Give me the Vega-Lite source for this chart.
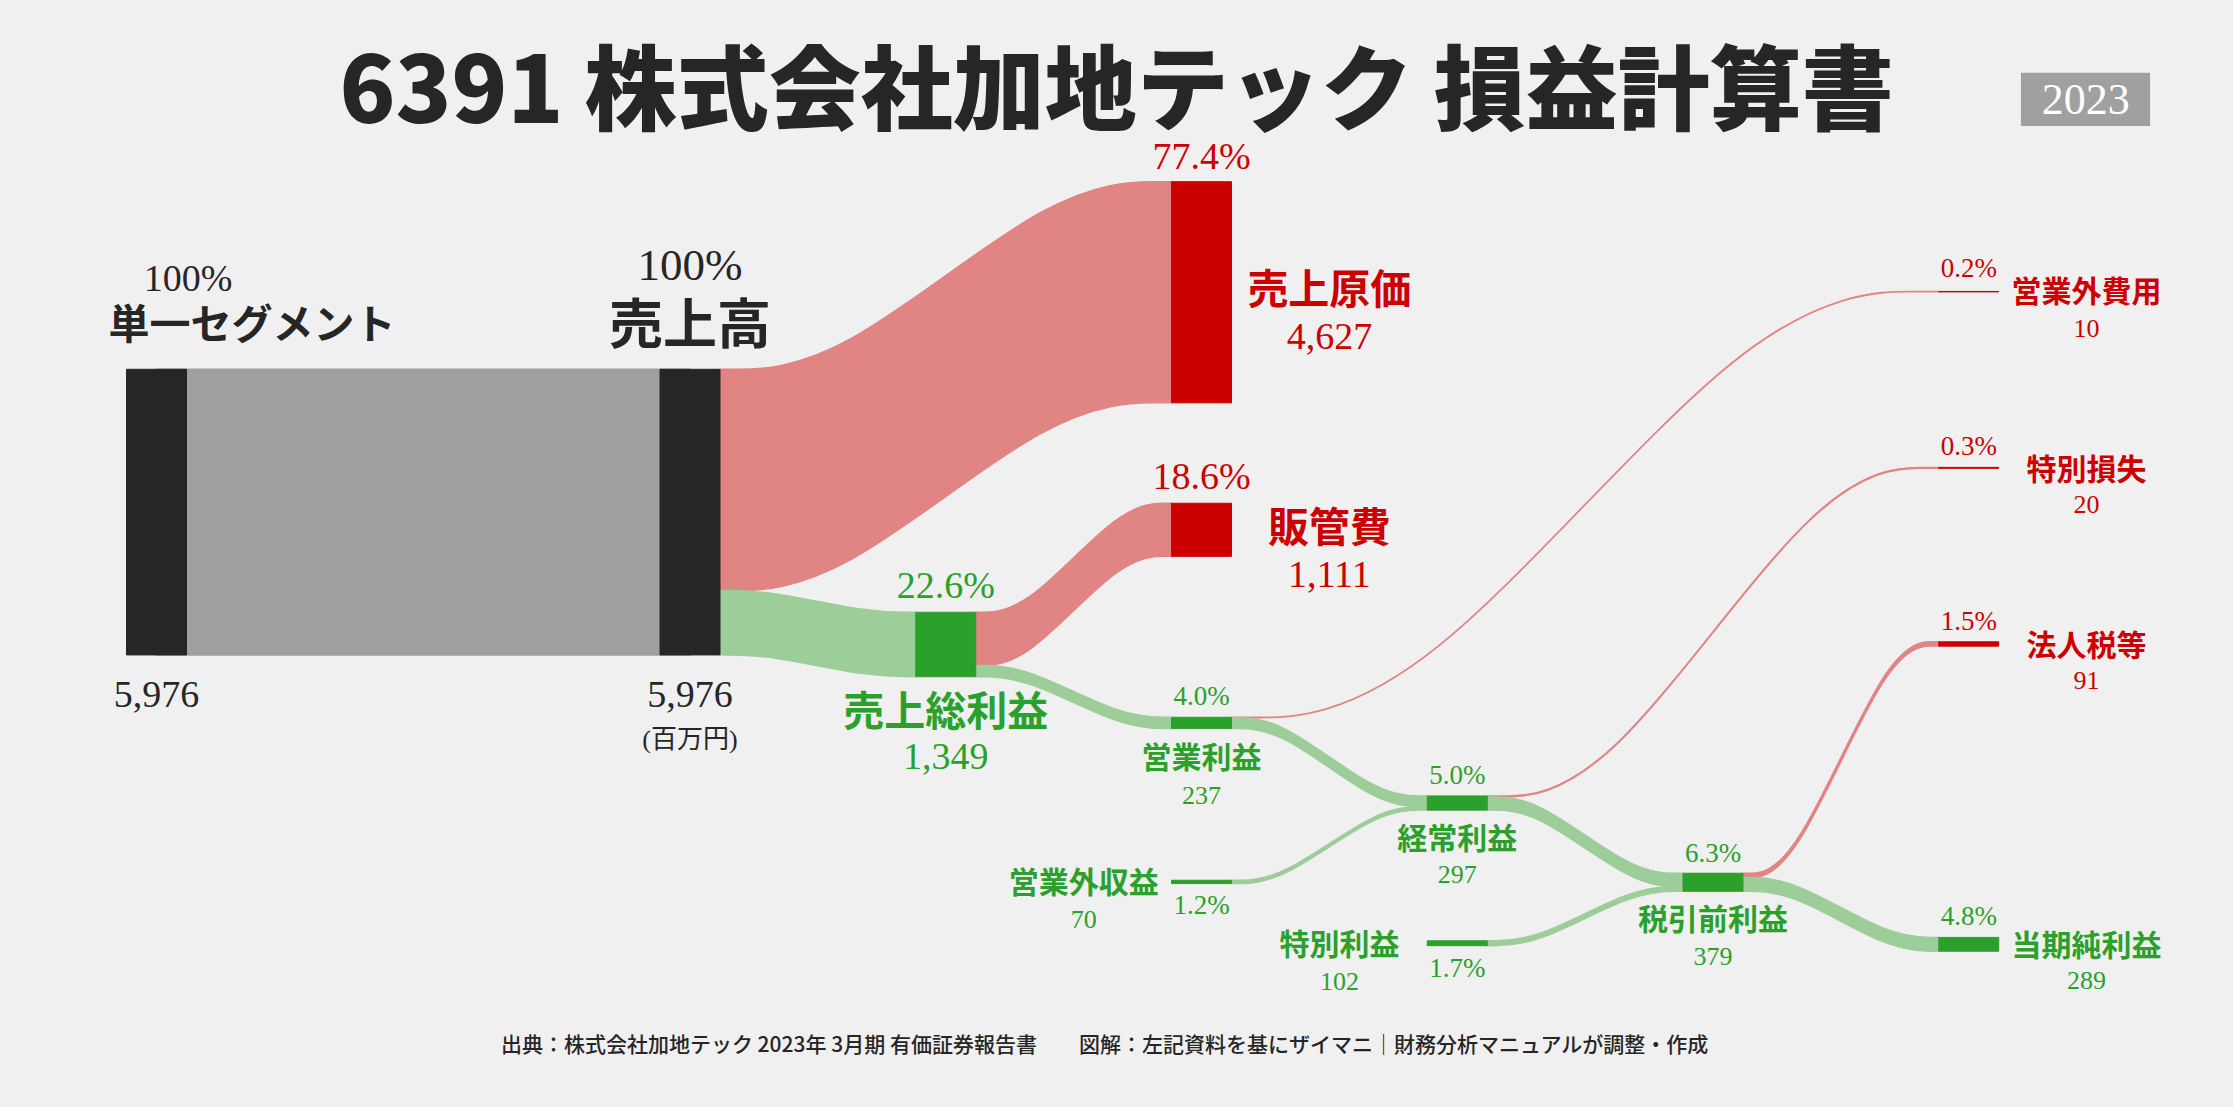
{
  "$schema": "https://vega.github.io/schema/vega-lite/v6.json",
  "width": 2233,
  "height": 1107,
  "autosize": {"type": "none"},
  "padding": 0,
  "background": "#f0f0f0",
  "config": {"view": {"stroke": null}},
  "datasets": {
    "nodes": [
      {"node": "単一セグメント", "kind": "base", "x": 0, "y": 7726, "y2": 13702},
      {"node": "売上高", "kind": "base", "x": 1, "y": 7726, "y2": 13702},
      {"node": "売上総利益", "kind": "profit", "x": 2, "y": 12809, "y2": 14158},
      {"node": "売上原価", "kind": "cost", "x": 3, "y": 3801, "y2": 8428},
      {"node": "販管費", "kind": "cost", "x": 3, "y": 10529, "y2": 11640},
      {"node": "営業利益", "kind": "profit", "x": 3, "y": 15006, "y2": 15243},
      {"node": "営業外収益", "kind": "profit", "x": 3, "y": 18416, "y2": 18486},
      {"node": "経常利益", "kind": "profit", "x": 4, "y": 16652, "y2": 16949},
      {"node": "特別利益", "kind": "profit", "x": 4, "y": 19683, "y2": 19785},
      {"node": "税引前利益", "kind": "profit", "x": 5, "y": 18269, "y2": 18648},
      {"node": "営業外費用", "kind": "cost", "x": 6, "y": 6097, "y2": 6107},
      {"node": "特別損失", "kind": "cost", "x": 6, "y": 9778, "y2": 9798},
      {"node": "法人税等", "kind": "cost", "x": 6, "y": 13427, "y2": 13518},
      {"node": "当期純利益", "kind": "profit", "x": 6, "y": 19612, "y2": 19901}
    ],
    "links": [
      {"link": "L1", "kind": "base-link", "x": 0, "y": 7726, "y2": 13702},
      {"link": "L1", "kind": "base-link", "x": 1, "y": 7726, "y2": 13702},
      {"link": "L2", "kind": "cost-link", "x": 1.117, "y": 7726, "y2": 12353},
      {"link": "L2", "kind": "cost-link", "x": 1.559, "y": 7726, "y2": 12353},
      {"link": "L2", "kind": "cost-link", "x": 2.441, "y": 3801, "y2": 8428},
      {"link": "L2", "kind": "cost-link", "x": 2.883, "y": 3801, "y2": 8428},
      {"link": "L3", "kind": "profit-link", "x": 1.117, "y": 12353, "y2": 13702},
      {"link": "L3", "kind": "profit-link", "x": 1.309, "y": 12353, "y2": 13702},
      {"link": "L3", "kind": "profit-link", "x": 1.691, "y": 12809, "y2": 14158},
      {"link": "L3", "kind": "profit-link", "x": 1.883, "y": 12809, "y2": 14158},
      {"link": "L4", "kind": "cost-link", "x": 2.117, "y": 12809, "y2": 13920},
      {"link": "L4", "kind": "cost-link", "x": 2.309, "y": 12809, "y2": 13920},
      {"link": "L4", "kind": "cost-link", "x": 2.691, "y": 10529, "y2": 11640},
      {"link": "L4", "kind": "cost-link", "x": 2.883, "y": 10529, "y2": 11640},
      {"link": "L5", "kind": "profit-link", "x": 2.117, "y": 13921, "y2": 14158},
      {"link": "L5", "kind": "profit-link", "x": 2.309, "y": 13921, "y2": 14158},
      {"link": "L5", "kind": "profit-link", "x": 2.691, "y": 15006, "y2": 15243},
      {"link": "L5", "kind": "profit-link", "x": 2.883, "y": 15006, "y2": 15243},
      {"link": "L6", "kind": "cost-link", "x": 3.117, "y": 15006, "y2": 15016},
      {"link": "L6", "kind": "cost-link", "x": 3.809, "y": 15006, "y2": 15016},
      {"link": "L6", "kind": "cost-link", "x": 5.191, "y": 6097, "y2": 6107},
      {"link": "L6", "kind": "cost-link", "x": 5.883, "y": 6097, "y2": 6107},
      {"link": "L7", "kind": "profit-link", "x": 3.117, "y": 15016, "y2": 15243},
      {"link": "L7", "kind": "profit-link", "x": 3.309, "y": 15016, "y2": 15243},
      {"link": "L7", "kind": "profit-link", "x": 3.691, "y": 16652, "y2": 16879},
      {"link": "L7", "kind": "profit-link", "x": 3.883, "y": 16652, "y2": 16879},
      {"link": "L8", "kind": "profit-link", "x": 3.117, "y": 18416, "y2": 18486},
      {"link": "L8", "kind": "profit-link", "x": 3.309, "y": 18416, "y2": 18486},
      {"link": "L8", "kind": "profit-link", "x": 3.691, "y": 16879, "y2": 16949},
      {"link": "L8", "kind": "profit-link", "x": 3.883, "y": 16879, "y2": 16949},
      {"link": "L9", "kind": "cost-link", "x": 4.117, "y": 16652, "y2": 16672},
      {"link": "L9", "kind": "cost-link", "x": 4.559, "y": 16652, "y2": 16672},
      {"link": "L9", "kind": "cost-link", "x": 5.441, "y": 9778, "y2": 9798},
      {"link": "L9", "kind": "cost-link", "x": 5.883, "y": 9778, "y2": 9798},
      {"link": "L10", "kind": "profit-link", "x": 4.117, "y": 16672, "y2": 16949},
      {"link": "L10", "kind": "profit-link", "x": 4.309, "y": 16672, "y2": 16949},
      {"link": "L10", "kind": "profit-link", "x": 4.691, "y": 18269, "y2": 18546},
      {"link": "L10", "kind": "profit-link", "x": 4.883, "y": 18269, "y2": 18546},
      {"link": "L11", "kind": "profit-link", "x": 4.117, "y": 19683, "y2": 19785},
      {"link": "L11", "kind": "profit-link", "x": 4.309, "y": 19683, "y2": 19785},
      {"link": "L11", "kind": "profit-link", "x": 4.691, "y": 18546, "y2": 18648},
      {"link": "L11", "kind": "profit-link", "x": 4.883, "y": 18546, "y2": 18648},
      {"link": "L12", "kind": "cost-link", "x": 5.117, "y": 18269, "y2": 18360},
      {"link": "L12", "kind": "cost-link", "x": 5.309, "y": 18269, "y2": 18360},
      {"link": "L12", "kind": "cost-link", "x": 5.691, "y": 13427, "y2": 13518},
      {"link": "L12", "kind": "cost-link", "x": 5.883, "y": 13427, "y2": 13518},
      {"link": "L13", "kind": "profit-link", "x": 5.117, "y": 18360, "y2": 18648},
      {"link": "L13", "kind": "profit-link", "x": 5.309, "y": 18360, "y2": 18648},
      {"link": "L13", "kind": "profit-link", "x": 5.691, "y": 19612, "y2": 19900},
      {"link": "L13", "kind": "profit-link", "x": 5.883, "y": 19612, "y2": 19900}
    ],
    "box": [
      {"x": 6.204, "x2": 6.709, "y": 1521, "y2": 2636}
    ],
    "labels": [
      {"text": "6391 株式会社加地テック 損益計算書", "role": "title", "kind": "base", "x": 2.668, "y": 1983},
      {"text": "2023", "role": "year", "kind": "base", "x": 6.457, "y": 2113},
      {"text": "出典：株式会社加地テック 2023年 3月期 有価証券報告書　　図解：左記資料を基にザイマニ｜財務分析マニュアルが調整・作成", "role": "note", "kind": "base", "x": 2.621, "y": 21893},
      {"text": "単一セグメント", "role": "name-l", "kind": "base", "x": 0.179, "y": 6834},
      {"text": "売上高", "role": "name-xl", "kind": "base", "x": 1, "y": 6857},
      {"text": "売上原価", "role": "name-l", "kind": "cost", "x": 3.5, "y": 6115},
      {"text": "販管費", "role": "name-l", "kind": "cost", "x": 3.5, "y": 11094},
      {"text": "売上総利益", "role": "name-l", "kind": "profit", "x": 2, "y": 14943},
      {"text": "営業利益", "role": "name-s", "kind": "profit", "x": 3, "y": 15887},
      {"text": "経常利益", "role": "name-s", "kind": "profit", "x": 4, "y": 17581},
      {"text": "税引前利益", "role": "name-s", "kind": "profit", "x": 5, "y": 19276},
      {"text": "営業外収益", "role": "name-s", "kind": "profit", "x": 2.54, "y": 18502},
      {"text": "特別利益", "role": "name-s", "kind": "profit", "x": 3.54, "y": 19799},
      {"text": "営業外費用", "role": "name-s", "kind": "cost", "x": 6.46, "y": 6132},
      {"text": "特別損失", "role": "name-s", "kind": "cost", "x": 6.46, "y": 9851},
      {"text": "法人税等", "role": "name-s", "kind": "cost", "x": 6.46, "y": 13544},
      {"text": "当期純利益", "role": "name-s", "kind": "profit", "x": 6.46, "y": 19820},
      {"text": "100%", "role": "pct-l", "kind": "base", "x": 0.059, "y": 5859},
      {"text": "100%", "role": "pct-xl", "kind": "base", "x": 1, "y": 5566},
      {"text": "77.4%", "role": "pct-l", "kind": "cost", "x": 3, "y": 3305},
      {"text": "18.6%", "role": "pct-l", "kind": "cost", "x": 3, "y": 10000},
      {"text": "22.6%", "role": "pct-l", "kind": "profit", "x": 2, "y": 12280},
      {"text": "4.0%", "role": "pct-s", "kind": "profit", "x": 3, "y": 14581},
      {"text": "5.0%", "role": "pct-s", "kind": "profit", "x": 4, "y": 16234},
      {"text": "6.3%", "role": "pct-s", "kind": "profit", "x": 5, "y": 17866},
      {"text": "1.2%", "role": "pct-s", "kind": "profit", "x": 3, "y": 18954},
      {"text": "1.7%", "role": "pct-s", "kind": "profit", "x": 4, "y": 20272},
      {"text": "0.2%", "role": "pct-s", "kind": "cost", "x": 6, "y": 5628},
      {"text": "0.3%", "role": "pct-s", "kind": "cost", "x": 6, "y": 9345},
      {"text": "1.5%", "role": "pct-s", "kind": "cost", "x": 6, "y": 13012},
      {"text": "4.8%", "role": "pct-s", "kind": "profit", "x": 6, "y": 19184},
      {"text": "5,976", "role": "val-l", "kind": "base", "x": 0, "y": 14560},
      {"text": "5,976", "role": "val-l", "kind": "base", "x": 1, "y": 14560},
      {"text": "4,627", "role": "val-l", "kind": "cost", "x": 3.5, "y": 7061},
      {"text": "1,111", "role": "val-l", "kind": "cost", "x": 3.5, "y": 12050},
      {"text": "1,349", "role": "val-l", "kind": "profit", "x": 2, "y": 15857},
      {"text": "237", "role": "val-s", "kind": "profit", "x": 3, "y": 16652},
      {"text": "297", "role": "val-s", "kind": "profit", "x": 4, "y": 18305},
      {"text": "379", "role": "val-s", "kind": "profit", "x": 5, "y": 20020},
      {"text": "70", "role": "val-s", "kind": "profit", "x": 2.54, "y": 19246},
      {"text": "102", "role": "val-s", "kind": "profit", "x": 3.54, "y": 20544},
      {"text": "10", "role": "val-s", "kind": "cost", "x": 6.46, "y": 6879},
      {"text": "20", "role": "val-s", "kind": "cost", "x": 6.46, "y": 10565},
      {"text": "91", "role": "val-s", "kind": "cost", "x": 6.46, "y": 14247},
      {"text": "289", "role": "val-s", "kind": "profit", "x": 6.46, "y": 20523},
      {"text": "(百万円)", "role": "unit", "kind": "base", "x": 1, "y": 15481}
    ]
  },
  "encoding": {
    "x": {"field": "x", "type": "quantitative", "axis": null, "scale": {"type": "linear", "domain": [0, 1, 7], "range": [156.5, 690, 2224.5], "padding": 0, "zero": false, "nice": false}},
    "y": {"field": "y", "type": "quantitative", "axis": null, "stack": null, "scale": {"domain": [0, 23160], "reverse": true, "padding": 0, "zero": false, "nice": false}}
  },
  "layer": [
    {
      "data": {"name": "links"},
      "mark": {"type": "area", "interpolate": "basis", "strokeWidth": 1.4},
      "encoding": {
        "y2": {"field": "y2"},
        "detail": {"field": "link"},
        "color": {"field": "kind", "type": "nominal", "legend": null, "scale": {"domain": ["base", "cost", "profit", "base-link", "cost-link", "profit-link"], "range": ["#262626", "#cc0000", "#2ca02c", "#a0a0a0", "#e08484", "#9dcd99"]}},
        "stroke": {"field": "kind", "type": "nominal", "legend": null, "scale": {"domain": ["base", "cost", "profit", "base-link", "cost-link", "profit-link"], "range": ["#262626", "#cc0000", "#2ca02c", "#a0a0a0", "#e08484", "#9dcd99"]}}
      }
    },
    {
      "data": {"name": "nodes"},
      "mark": {"type": "bar", "width": 60, "strokeWidth": 1},
      "encoding": {
        "y2": {"field": "y2"},
        "color": {"field": "kind", "type": "nominal", "legend": null, "scale": {"domain": ["base", "cost", "profit", "base-link", "cost-link", "profit-link"], "range": ["#262626", "#cc0000", "#2ca02c", "#a0a0a0", "#e08484", "#9dcd99"]}},
        "stroke": {"field": "kind", "type": "nominal", "legend": null, "scale": {"domain": ["base", "cost", "profit", "base-link", "cost-link", "profit-link"], "range": ["#262626", "#cc0000", "#2ca02c", "#a0a0a0", "#e08484", "#9dcd99"]}}
      }
    },
    {
      "data": {"name": "box"},
      "mark": {"type": "rect", "fill": "#a0a0a0"},
      "encoding": {"x2": {"field": "x2"}, "y2": {"field": "y2"}}
    },
    {
      "data": {"name": "labels"},
      "transform": [{"filter": "datum.role == 'title'"}],
      "mark": {"type": "text", "font": "Noto Sans CJK JP", "fontSize": 92, "fontWeight": 900, "fill": "#262626", "align": "center", "baseline": "middle"},
      "encoding": {"text": {"field": "text"}}
    },
    {
      "data": {"name": "labels"},
      "transform": [{"filter": "datum.role == 'year'"}],
      "mark": {"type": "text", "font": "Liberation Serif", "fontSize": 44, "fill": "#ffffff", "align": "center", "baseline": "middle"},
      "encoding": {"text": {"field": "text"}}
    },
    {
      "data": {"name": "labels"},
      "transform": [{"filter": "datum.role == 'note'"}],
      "mark": {"type": "text", "font": "Noto Sans CJK JP", "fontSize": 21, "fontWeight": 500, "fill": "#262626", "align": "center", "baseline": "middle"},
      "encoding": {"text": {"field": "text"}}
    },
    {
      "data": {"name": "labels"},
      "transform": [{"filter": "datum.role == 'name-xl'"}],
      "mark": {"type": "text", "font": "Noto Sans CJK JP", "fontSize": 54, "fontWeight": "bold", "align": "center", "baseline": "middle"},
      "encoding": {"text": {"field": "text"}, "color": {"field": "kind", "type": "nominal", "legend": null, "scale": {"domain": ["base", "cost", "profit", "base-link", "cost-link", "profit-link"], "range": ["#262626", "#cc0000", "#2ca02c", "#a0a0a0", "#e08484", "#9dcd99"]}}}
    },
    {
      "data": {"name": "labels"},
      "transform": [{"filter": "datum.role == 'name-l'"}],
      "mark": {"type": "text", "font": "Noto Sans CJK JP", "fontSize": 41, "fontWeight": "bold", "align": "center", "baseline": "middle"},
      "encoding": {"text": {"field": "text"}, "color": {"field": "kind", "type": "nominal", "legend": null, "scale": {"domain": ["base", "cost", "profit", "base-link", "cost-link", "profit-link"], "range": ["#262626", "#cc0000", "#2ca02c", "#a0a0a0", "#e08484", "#9dcd99"]}}}
    },
    {
      "data": {"name": "labels"},
      "transform": [{"filter": "datum.role == 'name-s'"}],
      "mark": {"type": "text", "font": "Noto Sans CJK JP", "fontSize": 30, "fontWeight": "bold", "align": "center", "baseline": "middle"},
      "encoding": {"text": {"field": "text"}, "color": {"field": "kind", "type": "nominal", "legend": null, "scale": {"domain": ["base", "cost", "profit", "base-link", "cost-link", "profit-link"], "range": ["#262626", "#cc0000", "#2ca02c", "#a0a0a0", "#e08484", "#9dcd99"]}}}
    },
    {
      "data": {"name": "labels"},
      "transform": [{"filter": "datum.role == 'pct-xl'"}],
      "mark": {"type": "text", "font": "Liberation Serif", "fontSize": 45, "align": "center", "baseline": "middle"},
      "encoding": {"text": {"field": "text"}, "color": {"field": "kind", "type": "nominal", "legend": null, "scale": {"domain": ["base", "cost", "profit", "base-link", "cost-link", "profit-link"], "range": ["#262626", "#cc0000", "#2ca02c", "#a0a0a0", "#e08484", "#9dcd99"]}}}
    },
    {
      "data": {"name": "labels"},
      "transform": [{"filter": "datum.role == 'pct-l'"}],
      "mark": {"type": "text", "font": "Liberation Serif", "fontSize": 38, "align": "center", "baseline": "middle"},
      "encoding": {"text": {"field": "text"}, "color": {"field": "kind", "type": "nominal", "legend": null, "scale": {"domain": ["base", "cost", "profit", "base-link", "cost-link", "profit-link"], "range": ["#262626", "#cc0000", "#2ca02c", "#a0a0a0", "#e08484", "#9dcd99"]}}}
    },
    {
      "data": {"name": "labels"},
      "transform": [{"filter": "datum.role == 'pct-s'"}],
      "mark": {"type": "text", "font": "Liberation Serif", "fontSize": 27, "align": "center", "baseline": "middle"},
      "encoding": {"text": {"field": "text"}, "color": {"field": "kind", "type": "nominal", "legend": null, "scale": {"domain": ["base", "cost", "profit", "base-link", "cost-link", "profit-link"], "range": ["#262626", "#cc0000", "#2ca02c", "#a0a0a0", "#e08484", "#9dcd99"]}}}
    },
    {
      "data": {"name": "labels"},
      "transform": [{"filter": "datum.role == 'val-l'"}],
      "mark": {"type": "text", "font": "Liberation Serif", "fontSize": 38, "align": "center", "baseline": "middle"},
      "encoding": {"text": {"field": "text"}, "color": {"field": "kind", "type": "nominal", "legend": null, "scale": {"domain": ["base", "cost", "profit", "base-link", "cost-link", "profit-link"], "range": ["#262626", "#cc0000", "#2ca02c", "#a0a0a0", "#e08484", "#9dcd99"]}}}
    },
    {
      "data": {"name": "labels"},
      "transform": [{"filter": "datum.role == 'val-s'"}],
      "mark": {"type": "text", "font": "Liberation Serif", "fontSize": 26, "align": "center", "baseline": "middle"},
      "encoding": {"text": {"field": "text"}, "color": {"field": "kind", "type": "nominal", "legend": null, "scale": {"domain": ["base", "cost", "profit", "base-link", "cost-link", "profit-link"], "range": ["#262626", "#cc0000", "#2ca02c", "#a0a0a0", "#e08484", "#9dcd99"]}}}
    },
    {
      "data": {"name": "labels"},
      "transform": [{"filter": "datum.role == 'unit'"}],
      "mark": {"type": "text", "font": "Liberation Serif, Noto Sans CJK JP", "fontSize": 26, "align": "center", "baseline": "middle"},
      "encoding": {"text": {"field": "text"}, "color": {"field": "kind", "type": "nominal", "legend": null, "scale": {"domain": ["base", "cost", "profit", "base-link", "cost-link", "profit-link"], "range": ["#262626", "#cc0000", "#2ca02c", "#a0a0a0", "#e08484", "#9dcd99"]}}}
    }
  ]
}
